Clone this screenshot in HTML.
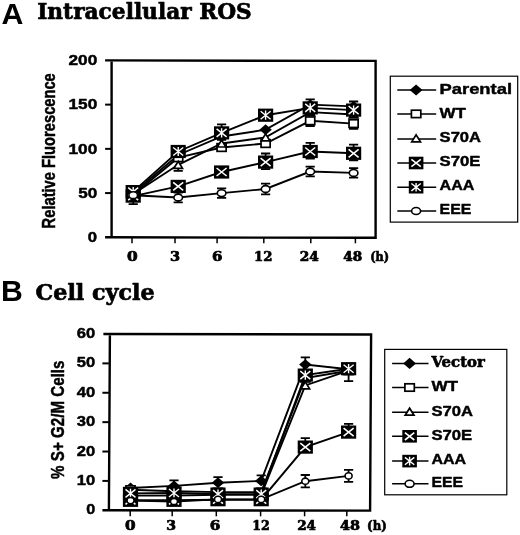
<!DOCTYPE html>
<html lang="en"><head><meta charset="utf-8"><title>Intracellular ROS and Cell cycle</title>
<style>html,body{margin:0;padding:0;background:#fff}svg{display:block}</style></head>
<body>
<svg width="520" height="535" viewBox="0 0 520 535">
<rect width="520" height="535" fill="#fff"/>
<text x="1.5" y="24.1" font-family='"Liberation Sans", Arial, Helvetica, sans-serif' font-size="30.3" font-weight="bold" text-anchor="start">A</text>
<text x="37.2" y="19.3" font-family='"DejaVu Serif", "Liberation Serif", serif' font-size="22.3" font-weight="bold" text-anchor="start" textLength="214.6" lengthAdjust="spacingAndGlyphs" stroke="#000" stroke-width="0.7" stroke-linejoin="round">Intracellular ROS</text>
<path d="M105.1 60.4L375.6 60.9L375.6 237.8L105.1 237.3M111.6 60.4L111.6 237.3" stroke="#000" stroke-width="2.4" fill="none" stroke-linejoin="miter"/>
<path d="M105.1 193.07500000000002H111.6" stroke="#000" stroke-width="2"/>
<path d="M105.1 148.85000000000002H111.6" stroke="#000" stroke-width="2"/>
<path d="M105.1 104.625H111.6" stroke="#000" stroke-width="2"/>
<path d="M132 237.3V243.3" stroke="#000" stroke-width="1.5"/>
<path d="M175 237.3V243.3" stroke="#000" stroke-width="1.5"/>
<path d="M217.1 237.3V243.3" stroke="#000" stroke-width="1.5"/>
<path d="M263.8 237.3V243.3" stroke="#000" stroke-width="1.5"/>
<path d="M310.8 237.3V243.3" stroke="#000" stroke-width="1.5"/>
<path d="M355.4 237.3V243.3" stroke="#000" stroke-width="1.5"/>
<polyline points="133.2,193.1 178.2,155.0 221.6,136.5 265.6,129.7 310.2,104.6 353.6,106.4" fill="none" stroke="#000" stroke-width="1.9"/>
<path d="M126.99999999999999 193.1L133.2 187.7L139.39999999999998 193.1L133.2 198.5Z" fill="#000"/>
<path d="M172.0 155.0L178.2 149.6L184.39999999999998 155.0L178.2 160.4Z" fill="#000"/>
<path d="M215.4 136.5L221.6 131.1L227.79999999999998 136.5L221.6 141.9Z" fill="#000"/>
<path d="M259.40000000000003 129.7L265.6 124.29999999999998L271.8 129.7L265.6 135.1Z" fill="#000"/>
<path d="M304.0 104.6L310.2 99.19999999999999L316.4 104.6L310.2 110.0Z" fill="#000"/>
<path d="M347.40000000000003 106.4L353.6 101.0L359.8 106.4L353.6 111.80000000000001Z" fill="#000"/>
<polyline points="133.2,194.8 178.2,157.7 221.6,147.5 265.6,143.5 310.2,120.8 353.6,123.6" fill="none" stroke="#000" stroke-width="1.9"/>
<path d="M310.2 120.8V126.0M305.59999999999997 126.0H314.8" stroke="#000" stroke-width="1.8" fill="none"/>
<path d="M353.6 123.6V128.8M349.0 128.8H358.20000000000005" stroke="#000" stroke-width="1.8" fill="none"/>
<rect x="128.64999999999998" y="190.95000000000002" width="9.1" height="7.7" fill="#fff" stroke="#000" stroke-width="1.7"/>
<rect x="173.64999999999998" y="153.85" width="9.1" height="7.7" fill="#fff" stroke="#000" stroke-width="1.7"/>
<rect x="217.04999999999998" y="143.65" width="9.1" height="7.7" fill="#fff" stroke="#000" stroke-width="1.7"/>
<rect x="261.05" y="139.65" width="9.1" height="7.7" fill="#fff" stroke="#000" stroke-width="1.7"/>
<rect x="305.65" y="116.95" width="9.1" height="7.7" fill="#fff" stroke="#000" stroke-width="1.7"/>
<rect x="349.05" y="119.75" width="9.1" height="7.7" fill="#fff" stroke="#000" stroke-width="1.7"/>
<polyline points="133.2,194.0 178.2,164.8 221.6,143.5 265.6,137.4 310.2,112.1 353.6,114.5" fill="none" stroke="#000" stroke-width="1.9"/>
<path d="M178.2 164.8V170.8M173.6 170.8H182.79999999999998" stroke="#000" stroke-width="1.8" fill="none"/>
<path d="M128.89999999999998 197.5L133.2 190.5L137.5 197.5Z" fill="#fff" stroke="#000" stroke-width="1.7" stroke-linejoin="miter"/>
<path d="M173.89999999999998 168.3L178.2 161.3L182.5 168.3Z" fill="#fff" stroke="#000" stroke-width="1.7" stroke-linejoin="miter"/>
<path d="M217.29999999999998 147.0L221.6 140.0L225.9 147.0Z" fill="#fff" stroke="#000" stroke-width="1.7" stroke-linejoin="miter"/>
<path d="M261.3 140.9L265.6 133.9L269.90000000000003 140.9Z" fill="#fff" stroke="#000" stroke-width="1.7" stroke-linejoin="miter"/>
<path d="M305.9 115.6L310.2 108.6L314.5 115.6Z" fill="#fff" stroke="#000" stroke-width="1.7" stroke-linejoin="miter"/>
<path d="M349.3 118.0L353.6 111.0L357.90000000000003 118.0Z" fill="#fff" stroke="#000" stroke-width="1.7" stroke-linejoin="miter"/>
<polyline points="133.2,196.1 178.2,186.4 221.6,172.0 265.6,162.1 310.2,151.5 353.6,153.3" fill="none" stroke="#000" stroke-width="1.9"/>
<path d="M133.2 196.1V204.1M128.6 204.1H137.79999999999998" stroke="#000" stroke-width="1.8" fill="none"/>
<path d="M265.6 153.5V169.1M261.0 153.5H270.20000000000005M261.0 169.1H270.20000000000005" stroke="#000" stroke-width="1.8" fill="none"/>
<path d="M310.2 142.9V158.5M305.59999999999997 142.9H314.8M305.59999999999997 158.5H314.8" stroke="#000" stroke-width="1.8" fill="none"/>
<path d="M353.6 144.7V160.3M349.0 144.7H358.20000000000005M349.0 160.3H358.20000000000005" stroke="#000" stroke-width="1.8" fill="none"/>
<rect x="125.6" y="189.5" width="15.2" height="13.2" fill="#000"/>
<path d="M128.2 192.1L138.2 200.1M138.2 192.1L128.2 200.1" stroke="#fff" stroke-width="1.6" fill="none"/>
<rect x="170.6" y="179.8" width="15.2" height="13.2" fill="#000"/>
<path d="M173.2 182.4L183.2 190.4M183.2 182.4L173.2 190.4" stroke="#fff" stroke-width="1.6" fill="none"/>
<rect x="214.0" y="165.4" width="15.2" height="13.2" fill="#000"/>
<path d="M216.6 168.0L226.6 176.0M226.6 168.0L216.6 176.0" stroke="#fff" stroke-width="1.6" fill="none"/>
<rect x="258.0" y="155.5" width="15.2" height="13.2" fill="#000"/>
<path d="M260.6 158.1L270.6 166.1M270.6 158.1L260.6 166.1" stroke="#fff" stroke-width="1.6" fill="none"/>
<rect x="302.59999999999997" y="144.9" width="15.2" height="13.2" fill="#000"/>
<path d="M305.2 147.5L315.2 155.5M315.2 147.5L305.2 155.5" stroke="#fff" stroke-width="1.6" fill="none"/>
<rect x="346.0" y="146.70000000000002" width="15.2" height="13.2" fill="#000"/>
<path d="M348.6 149.3L358.6 157.3M358.6 149.3L348.6 157.3" stroke="#fff" stroke-width="1.6" fill="none"/>
<polyline points="133.2,191.6 178.2,151.5 221.6,132.9 265.6,115.2 310.2,107.9 353.6,110.1" fill="none" stroke="#000" stroke-width="1.9"/>
<path d="M221.6 124.3V139.9M217.0 124.3H226.2M217.0 139.9H226.2" stroke="#000" stroke-width="1.8" fill="none"/>
<path d="M310.2 99.3V114.9M305.59999999999997 99.3H314.8M305.59999999999997 114.9H314.8" stroke="#000" stroke-width="1.8" fill="none"/>
<path d="M353.6 101.5V117.1M349.0 101.5H358.20000000000005M349.0 117.1H358.20000000000005" stroke="#000" stroke-width="1.8" fill="none"/>
<rect x="125.6" y="185.0" width="15.2" height="13.2" fill="#000"/>
<path d="M128.2 187.6L138.2 195.6M138.2 187.6L128.2 195.6M133.2 187.0V196.2" stroke="#fff" stroke-width="1.4" fill="none"/>
<rect x="170.6" y="144.9" width="15.2" height="13.2" fill="#000"/>
<path d="M173.2 147.5L183.2 155.5M183.2 147.5L173.2 155.5M178.2 146.9V156.1" stroke="#fff" stroke-width="1.4" fill="none"/>
<rect x="214.0" y="126.30000000000001" width="15.2" height="13.2" fill="#000"/>
<path d="M216.6 128.9L226.6 136.9M226.6 128.9L216.6 136.9M221.6 128.3V137.5" stroke="#fff" stroke-width="1.4" fill="none"/>
<rect x="258.0" y="108.60000000000001" width="15.2" height="13.2" fill="#000"/>
<path d="M260.6 111.2L270.6 119.2M270.6 111.2L260.6 119.2M265.6 110.60000000000001V119.8" stroke="#fff" stroke-width="1.4" fill="none"/>
<rect x="302.59999999999997" y="101.30000000000001" width="15.2" height="13.2" fill="#000"/>
<path d="M305.2 103.9L315.2 111.9M315.2 103.9L305.2 111.9M310.2 103.30000000000001V112.5" stroke="#fff" stroke-width="1.4" fill="none"/>
<rect x="346.0" y="103.5" width="15.2" height="13.2" fill="#000"/>
<path d="M348.6 106.1L358.6 114.1M358.6 106.1L348.6 114.1M353.6 105.5V114.69999999999999" stroke="#fff" stroke-width="1.4" fill="none"/>
<polyline points="133.2,195.2 178.2,197.5 221.6,193.1 265.6,189.0 310.2,171.5 353.6,172.9" fill="none" stroke="#000" stroke-width="1.9"/>
<path d="M178.2 192.7V202.3M173.6 192.7H182.79999999999998M173.6 202.3H182.79999999999998" stroke="#000" stroke-width="1.8" fill="none"/>
<path d="M221.6 188.3V197.9M217.0 188.3H226.2M217.0 197.9H226.2" stroke="#000" stroke-width="1.8" fill="none"/>
<path d="M265.6 183.6V194.4M261.0 183.6H270.20000000000005M261.0 194.4H270.20000000000005" stroke="#000" stroke-width="1.8" fill="none"/>
<path d="M310.2 166.7V176.3M305.59999999999997 166.7H314.8M305.59999999999997 176.3H314.8" stroke="#000" stroke-width="1.8" fill="none"/>
<path d="M353.6 168.1V177.7M349.0 168.1H358.20000000000005M349.0 177.7H358.20000000000005" stroke="#000" stroke-width="1.8" fill="none"/>
<ellipse cx="133.2" cy="195.2" rx="4.3" ry="3.4" fill="#fff" stroke="#000" stroke-width="1.6"/>
<ellipse cx="178.2" cy="197.5" rx="4.3" ry="3.4" fill="#fff" stroke="#000" stroke-width="1.6"/>
<ellipse cx="221.6" cy="193.1" rx="4.3" ry="3.4" fill="#fff" stroke="#000" stroke-width="1.6"/>
<ellipse cx="265.6" cy="189.0" rx="4.3" ry="3.4" fill="#fff" stroke="#000" stroke-width="1.6"/>
<ellipse cx="310.2" cy="171.5" rx="4.3" ry="3.4" fill="#fff" stroke="#000" stroke-width="1.6"/>
<ellipse cx="353.6" cy="172.9" rx="4.3" ry="3.4" fill="#fff" stroke="#000" stroke-width="1.6"/>
<text x="68.5" y="65.1" font-family='"Liberation Sans", Arial, Helvetica, sans-serif' font-size="14" font-weight="bold" text-anchor="start" textLength="28.7" lengthAdjust="spacingAndGlyphs" stroke="#000" stroke-width="0.45" stroke-linejoin="round">200</text>
<text x="68.5" y="109.3" font-family='"Liberation Sans", Arial, Helvetica, sans-serif' font-size="14" font-weight="bold" text-anchor="start" textLength="28.7" lengthAdjust="spacingAndGlyphs" stroke="#000" stroke-width="0.45" stroke-linejoin="round">150</text>
<text x="68.5" y="153.6" font-family='"Liberation Sans", Arial, Helvetica, sans-serif' font-size="14" font-weight="bold" text-anchor="start" textLength="28.7" lengthAdjust="spacingAndGlyphs" stroke="#000" stroke-width="0.45" stroke-linejoin="round">100</text>
<text x="78.2" y="197.8" font-family='"Liberation Sans", Arial, Helvetica, sans-serif' font-size="14" font-weight="bold" text-anchor="start" textLength="19.0" lengthAdjust="spacingAndGlyphs" stroke="#000" stroke-width="0.45" stroke-linejoin="round">50</text>
<text x="87.8" y="242.0" font-family='"Liberation Sans", Arial, Helvetica, sans-serif' font-size="14" font-weight="bold" text-anchor="start" textLength="9.3" lengthAdjust="spacingAndGlyphs" stroke="#000" stroke-width="0.45" stroke-linejoin="round">0</text>
<text x="127.10000000000001" y="260.6" font-family='"DejaVu Serif", "Liberation Serif", serif' font-size="12.5" font-weight="bold" text-anchor="start" textLength="10.7" lengthAdjust="spacingAndGlyphs" stroke="#000" stroke-width="0.7" stroke-linejoin="round">0</text>
<text x="169.9" y="260.6" font-family='"DejaVu Serif", "Liberation Serif", serif' font-size="12.5" font-weight="bold" text-anchor="start" textLength="10.1" lengthAdjust="spacingAndGlyphs" stroke="#000" stroke-width="0.7" stroke-linejoin="round">3</text>
<text x="211.9" y="260.6" font-family='"DejaVu Serif", "Liberation Serif", serif' font-size="12.5" font-weight="bold" text-anchor="start" textLength="10.4" lengthAdjust="spacingAndGlyphs" stroke="#000" stroke-width="0.7" stroke-linejoin="round">6</text>
<text x="254.0" y="260.6" font-family='"DejaVu Serif", "Liberation Serif", serif' font-size="12.5" font-weight="bold" text-anchor="start" textLength="18.4" lengthAdjust="spacingAndGlyphs" stroke="#000" stroke-width="0.7" stroke-linejoin="round">12</text>
<text x="299.7" y="260.6" font-family='"DejaVu Serif", "Liberation Serif", serif' font-size="12.5" font-weight="bold" text-anchor="start" textLength="19.1" lengthAdjust="spacingAndGlyphs" stroke="#000" stroke-width="0.7" stroke-linejoin="round">24</text>
<text x="343.2" y="260.6" font-family='"DejaVu Serif", "Liberation Serif", serif' font-size="12.5" font-weight="bold" text-anchor="start" textLength="18.9" lengthAdjust="spacingAndGlyphs" stroke="#000" stroke-width="0.7" stroke-linejoin="round">48</text>
<text x="370.2" y="260.6" font-family='"DejaVu Serif", "Liberation Serif", serif' font-size="13" font-weight="bold" text-anchor="start" textLength="18.9" lengthAdjust="spacingAndGlyphs" stroke="#000" stroke-width="0.7" stroke-linejoin="round">(h)</text>
<g transform="translate(55.3 228.4) rotate(-90) scale(1 1.2)">
<text x="0" y="0" font-family='"Liberation Sans", Arial, Helvetica, sans-serif' font-size="15" font-weight="bold" text-anchor="start" textLength="155.2" lengthAdjust="spacingAndGlyphs" stroke="#000" stroke-width="0.4" stroke-linejoin="round">Relative Fluorescence</text>
</g>
<rect x="390.3" y="76.2" width="127.40000000000003" height="145.89999999999998" fill="#fff" stroke="#000" stroke-width="1.2"/>
<path d="M397.3 90.0H436.2" stroke="#000" stroke-width="1.5"/>
<path d="M409.70000000000005 90.0L416.1 84.4L422.5 90.0L416.1 95.6Z" fill="#000"/>
<text x="439.6" y="93.7" font-family='"Liberation Sans", Arial, Helvetica, sans-serif' font-size="15.2" font-weight="bold" text-anchor="start" textLength="72.4" lengthAdjust="spacingAndGlyphs" stroke="#000" stroke-width="0.45" stroke-linejoin="round">Parental</text>
<path d="M397.3 113.9H436.2" stroke="#000" stroke-width="1.5"/>
<rect x="411.40000000000003" y="110.2" width="9.4" height="7.4" fill="#fff" stroke="#000" stroke-width="1.7"/>
<text x="439.6" y="117.9" font-family='"Liberation Sans", Arial, Helvetica, sans-serif' font-size="15.2" font-weight="bold" text-anchor="start" textLength="26.4" lengthAdjust="spacingAndGlyphs" stroke="#000" stroke-width="0.45" stroke-linejoin="round">WT</text>
<path d="M397.3 139H436.2" stroke="#000" stroke-width="1.5"/>
<path d="M411.70000000000005 141.9L416.1 134.9L420.5 141.9Z" fill="#fff" stroke="#000" stroke-width="1.7" stroke-linejoin="miter"/>
<text x="439.6" y="142.1" font-family='"Liberation Sans", Arial, Helvetica, sans-serif' font-size="15.2" font-weight="bold" text-anchor="start" textLength="41.4" lengthAdjust="spacingAndGlyphs" stroke="#000" stroke-width="0.45" stroke-linejoin="round">S70A</text>
<path d="M397.3 163H436.2" stroke="#000" stroke-width="1.5"/>
<rect x="408.8" y="156.7" width="14.6" height="12.6" fill="#000"/>
<path d="M411.40000000000003 159.3L420.8 166.7M420.8 159.3L411.40000000000003 166.7" stroke="#fff" stroke-width="1.6" fill="none"/>
<text x="439.6" y="165.6" font-family='"Liberation Sans", Arial, Helvetica, sans-serif' font-size="15.2" font-weight="bold" text-anchor="start" textLength="40.9" lengthAdjust="spacingAndGlyphs" stroke="#000" stroke-width="0.45" stroke-linejoin="round">S70E</text>
<path d="M397.3 187.2H436.2" stroke="#000" stroke-width="1.5"/>
<rect x="408.8" y="180.89999999999998" width="14.6" height="12.6" fill="#000"/>
<path d="M411.40000000000003 183.5L420.8 190.89999999999998M420.8 183.5L411.40000000000003 190.89999999999998M416.1 182.9V191.49999999999997" stroke="#fff" stroke-width="1.4" fill="none"/>
<text x="439.6" y="190.1" font-family='"Liberation Sans", Arial, Helvetica, sans-serif' font-size="15.2" font-weight="bold" text-anchor="start" textLength="34.9" lengthAdjust="spacingAndGlyphs" stroke="#000" stroke-width="0.45" stroke-linejoin="round">AAA</text>
<path d="M397.3 211.0H436.2" stroke="#000" stroke-width="1.5"/>
<ellipse cx="416.1" cy="211.0" rx="4.5" ry="3.5" fill="#fff" stroke="#000" stroke-width="1.6"/>
<text x="439.6" y="214.4" font-family='"Liberation Sans", Arial, Helvetica, sans-serif' font-size="15.2" font-weight="bold" text-anchor="start" textLength="31.7" lengthAdjust="spacingAndGlyphs" stroke="#000" stroke-width="0.45" stroke-linejoin="round">EEE</text>
<text x="1.1" y="300.9" font-family='"Liberation Sans", Arial, Helvetica, sans-serif' font-size="30.2" font-weight="bold" text-anchor="start">B</text>
<text x="35.6" y="299.9" font-family='"DejaVu Serif", "Liberation Serif", serif' font-size="22.3" font-weight="bold" text-anchor="start" textLength="119" lengthAdjust="spacingAndGlyphs" stroke="#000" stroke-width="0.7" stroke-linejoin="round">Cell cycle</text>
<path d="M103.4 334L371.1 334.5L370.1 510.6L102.4 510.3M109.9 334L108.9 510.3" stroke="#000" stroke-width="2.4" fill="none" stroke-linejoin="miter"/>
<path d="M102.4 480.9166666666667H108.9" stroke="#000" stroke-width="2"/>
<path d="M102.4 451.53333333333336H108.9" stroke="#000" stroke-width="2"/>
<path d="M102.4 422.15H108.9" stroke="#000" stroke-width="2"/>
<path d="M102.4 392.76666666666665H108.9" stroke="#000" stroke-width="2"/>
<path d="M102.4 363.3833333333333H108.9" stroke="#000" stroke-width="2"/>
<path d="M130.2 510.3V516.3" stroke="#000" stroke-width="1.5"/>
<path d="M172.2 510.3V516.3" stroke="#000" stroke-width="1.5"/>
<path d="M216.3 510.3V516.3" stroke="#000" stroke-width="1.5"/>
<path d="M260.6 510.3V516.3" stroke="#000" stroke-width="1.5"/>
<path d="M304.6 510.3V516.3" stroke="#000" stroke-width="1.5"/>
<path d="M346.8 510.3V516.3" stroke="#000" stroke-width="1.5"/>
<polyline points="130.5,488.0 174.0,485.9 218.0,482.7 261.2,480.9 305.3,364.6 348.6,369.3" fill="none" stroke="#000" stroke-width="1.9"/>
<path d="M174 480.3V485.9M169.4 480.3H178.6" stroke="#000" stroke-width="1.8" fill="none"/>
<path d="M218 477.1V482.7M213.4 477.1H222.6" stroke="#000" stroke-width="1.8" fill="none"/>
<path d="M261.2 475.3V480.9M256.59999999999997 475.3H265.8" stroke="#000" stroke-width="1.8" fill="none"/>
<path d="M305.3 357.4V364.6M300.7 357.4H309.90000000000003" stroke="#000" stroke-width="1.8" fill="none"/>
<path d="M124.3 488.0L130.5 482.6L136.7 488.0L130.5 493.4Z" fill="#000"/>
<path d="M167.8 485.9L174 480.5L180.2 485.9L174 491.29999999999995Z" fill="#000"/>
<path d="M211.8 482.7L218 477.3L224.2 482.7L218 488.09999999999997Z" fill="#000"/>
<path d="M255.0 480.9L261.2 475.5L267.4 480.9L261.2 486.29999999999995Z" fill="#000"/>
<path d="M299.1 364.6L305.3 359.20000000000005L311.5 364.6L305.3 370.0Z" fill="#000"/>
<path d="M342.40000000000003 369.3L348.6 363.90000000000003L354.8 369.3L348.6 374.7Z" fill="#000"/>
<polyline points="130.5,489.7 174.0,491.2 218.0,492.1 261.2,492.1 305.3,378.1 348.6,370.7" fill="none" stroke="#000" stroke-width="1.9"/>
<rect x="125.95" y="485.84999999999997" width="9.1" height="7.7" fill="#fff" stroke="#000" stroke-width="1.7"/>
<rect x="169.45" y="487.34999999999997" width="9.1" height="7.7" fill="#fff" stroke="#000" stroke-width="1.7"/>
<rect x="213.45" y="488.25" width="9.1" height="7.7" fill="#fff" stroke="#000" stroke-width="1.7"/>
<rect x="256.65" y="488.25" width="9.1" height="7.7" fill="#fff" stroke="#000" stroke-width="1.7"/>
<rect x="300.75" y="374.25" width="9.1" height="7.7" fill="#fff" stroke="#000" stroke-width="1.7"/>
<rect x="344.05" y="366.84999999999997" width="9.1" height="7.7" fill="#fff" stroke="#000" stroke-width="1.7"/>
<polyline points="130.5,495.6 174.0,495.6 218.0,494.7 261.2,494.7 305.3,385.4 348.6,370.7" fill="none" stroke="#000" stroke-width="1.9"/>
<path d="M126.2 499.1L130.5 492.1L134.8 499.1Z" fill="#fff" stroke="#000" stroke-width="1.7" stroke-linejoin="miter"/>
<path d="M169.7 499.1L174 492.1L178.3 499.1Z" fill="#fff" stroke="#000" stroke-width="1.7" stroke-linejoin="miter"/>
<path d="M213.7 498.2L218 491.2L222.3 498.2Z" fill="#fff" stroke="#000" stroke-width="1.7" stroke-linejoin="miter"/>
<path d="M256.9 498.2L261.2 491.2L265.5 498.2Z" fill="#fff" stroke="#000" stroke-width="1.7" stroke-linejoin="miter"/>
<path d="M301.0 388.9L305.3 381.9L309.6 388.9Z" fill="#fff" stroke="#000" stroke-width="1.7" stroke-linejoin="miter"/>
<path d="M344.3 374.2L348.6 367.2L352.90000000000003 374.2Z" fill="#fff" stroke="#000" stroke-width="1.7" stroke-linejoin="miter"/>
<polyline points="130.5,500.3 174.0,500.3 218.0,499.7 261.2,499.7 305.3,447.1 348.6,432.1" fill="none" stroke="#000" stroke-width="1.9"/>
<path d="M305.3 438.1V447.1M300.7 438.1H309.90000000000003" stroke="#000" stroke-width="1.8" fill="none"/>
<path d="M348.6 423.9V432.1M344.0 423.9H353.20000000000005" stroke="#000" stroke-width="1.8" fill="none"/>
<rect x="122.9" y="493.7" width="15.2" height="13.2" fill="#000"/>
<path d="M125.5 496.3L135.5 504.3M135.5 496.3L125.5 504.3" stroke="#fff" stroke-width="1.6" fill="none"/>
<rect x="166.4" y="493.7" width="15.2" height="13.2" fill="#000"/>
<path d="M169.0 496.3L179.0 504.3M179.0 496.3L169.0 504.3" stroke="#fff" stroke-width="1.6" fill="none"/>
<rect x="210.4" y="493.09999999999997" width="15.2" height="13.2" fill="#000"/>
<path d="M213.0 495.7L223.0 503.7M223.0 495.7L213.0 503.7" stroke="#fff" stroke-width="1.6" fill="none"/>
<rect x="253.6" y="493.09999999999997" width="15.2" height="13.2" fill="#000"/>
<path d="M256.2 495.7L266.2 503.7M266.2 495.7L256.2 503.7" stroke="#fff" stroke-width="1.6" fill="none"/>
<rect x="297.7" y="440.5" width="15.2" height="13.2" fill="#000"/>
<path d="M300.3 443.1L310.3 451.1M310.3 443.1L300.3 451.1" stroke="#fff" stroke-width="1.6" fill="none"/>
<rect x="341.0" y="425.5" width="15.2" height="13.2" fill="#000"/>
<path d="M343.6 428.1L353.6 436.1M353.6 428.1L343.6 436.1" stroke="#fff" stroke-width="1.6" fill="none"/>
<polyline points="130.5,493.4 174.0,493.0 218.0,494.1 261.2,494.1 305.3,375.1 348.6,368.7" fill="none" stroke="#000" stroke-width="1.9"/>
<path d="M348.6 368.7V381.1M344.0 381.1H353.20000000000005" stroke="#000" stroke-width="1.8" fill="none"/>
<rect x="122.9" y="486.79999999999995" width="15.2" height="13.2" fill="#000"/>
<path d="M125.5 489.4L135.5 497.4M135.5 489.4L125.5 497.4M130.5 488.79999999999995V498.0" stroke="#fff" stroke-width="1.4" fill="none"/>
<rect x="166.4" y="486.4" width="15.2" height="13.2" fill="#000"/>
<path d="M169.0 489.0L179.0 497.0M179.0 489.0L169.0 497.0M174 488.4V497.6" stroke="#fff" stroke-width="1.4" fill="none"/>
<rect x="210.4" y="487.5" width="15.2" height="13.2" fill="#000"/>
<path d="M213.0 490.1L223.0 498.1M223.0 490.1L213.0 498.1M218 489.5V498.70000000000005" stroke="#fff" stroke-width="1.4" fill="none"/>
<rect x="253.6" y="487.5" width="15.2" height="13.2" fill="#000"/>
<path d="M256.2 490.1L266.2 498.1M266.2 490.1L256.2 498.1M261.2 489.5V498.70000000000005" stroke="#fff" stroke-width="1.4" fill="none"/>
<rect x="297.7" y="368.5" width="15.2" height="13.2" fill="#000"/>
<path d="M300.3 371.1L310.3 379.1M310.3 371.1L300.3 379.1M305.3 370.5V379.70000000000005" stroke="#fff" stroke-width="1.4" fill="none"/>
<rect x="341.0" y="362.09999999999997" width="15.2" height="13.2" fill="#000"/>
<path d="M343.6 364.7L353.6 372.7M353.6 364.7L343.6 372.7M348.6 364.09999999999997V373.3" stroke="#fff" stroke-width="1.4" fill="none"/>
<polyline points="130.5,500.6 174.0,501.5 218.0,499.4 261.2,499.4 305.3,481.2 348.6,475.9" fill="none" stroke="#000" stroke-width="1.9"/>
<path d="M305.3 475.0V487.4M300.7 475.0H309.90000000000003M300.7 487.4H309.90000000000003" stroke="#000" stroke-width="1.8" fill="none"/>
<path d="M348.6 469.9V481.9M344.0 469.9H353.20000000000005M344.0 481.9H353.20000000000005" stroke="#000" stroke-width="1.8" fill="none"/>
<ellipse cx="130.5" cy="500.6" rx="3.5" ry="3.1" fill="#fff" stroke="#000" stroke-width="1.6"/>
<ellipse cx="174" cy="501.5" rx="3.5" ry="3.1" fill="#fff" stroke="#000" stroke-width="1.6"/>
<ellipse cx="218" cy="499.4" rx="3.5" ry="3.1" fill="#fff" stroke="#000" stroke-width="1.6"/>
<ellipse cx="261.2" cy="499.4" rx="3.5" ry="3.1" fill="#fff" stroke="#000" stroke-width="1.6"/>
<ellipse cx="305.3" cy="481.2" rx="3.5" ry="3.1" fill="#fff" stroke="#000" stroke-width="1.6"/>
<ellipse cx="348.6" cy="475.9" rx="3.5" ry="3.1" fill="#fff" stroke="#000" stroke-width="1.6"/>
<text x="76.8" y="338.0" font-family='"Liberation Sans", Arial, Helvetica, sans-serif' font-size="14.2" font-weight="bold" text-anchor="start" textLength="18.4" lengthAdjust="spacingAndGlyphs" stroke="#000" stroke-width="0.45" stroke-linejoin="round">60</text>
<text x="76.8" y="367.4" font-family='"Liberation Sans", Arial, Helvetica, sans-serif' font-size="14.2" font-weight="bold" text-anchor="start" textLength="18.4" lengthAdjust="spacingAndGlyphs" stroke="#000" stroke-width="0.45" stroke-linejoin="round">50</text>
<text x="76.8" y="396.8" font-family='"Liberation Sans", Arial, Helvetica, sans-serif' font-size="14.2" font-weight="bold" text-anchor="start" textLength="18.4" lengthAdjust="spacingAndGlyphs" stroke="#000" stroke-width="0.45" stroke-linejoin="round">40</text>
<text x="76.8" y="426.1" font-family='"Liberation Sans", Arial, Helvetica, sans-serif' font-size="14.2" font-weight="bold" text-anchor="start" textLength="18.4" lengthAdjust="spacingAndGlyphs" stroke="#000" stroke-width="0.45" stroke-linejoin="round">30</text>
<text x="76.8" y="455.5" font-family='"Liberation Sans", Arial, Helvetica, sans-serif' font-size="14.2" font-weight="bold" text-anchor="start" textLength="18.4" lengthAdjust="spacingAndGlyphs" stroke="#000" stroke-width="0.45" stroke-linejoin="round">20</text>
<text x="76.8" y="484.9" font-family='"Liberation Sans", Arial, Helvetica, sans-serif' font-size="14.2" font-weight="bold" text-anchor="start" textLength="18.4" lengthAdjust="spacingAndGlyphs" stroke="#000" stroke-width="0.45" stroke-linejoin="round">10</text>
<text x="86.2" y="514.3" font-family='"Liberation Sans", Arial, Helvetica, sans-serif' font-size="14.2" font-weight="bold" text-anchor="start" textLength="9.0" lengthAdjust="spacingAndGlyphs" stroke="#000" stroke-width="0.45" stroke-linejoin="round">0</text>
<text x="125.0" y="529.9" font-family='"DejaVu Serif", "Liberation Serif", serif' font-size="12.5" font-weight="bold" text-anchor="start" textLength="10.6" lengthAdjust="spacingAndGlyphs" stroke="#000" stroke-width="0.7" stroke-linejoin="round">0</text>
<text x="166.20000000000002" y="529.9" font-family='"DejaVu Serif", "Liberation Serif", serif' font-size="12.5" font-weight="bold" text-anchor="start" textLength="9.8" lengthAdjust="spacingAndGlyphs" stroke="#000" stroke-width="0.7" stroke-linejoin="round">3</text>
<text x="209.8" y="529.9" font-family='"DejaVu Serif", "Liberation Serif", serif' font-size="12.5" font-weight="bold" text-anchor="start" textLength="10.6" lengthAdjust="spacingAndGlyphs" stroke="#000" stroke-width="0.7" stroke-linejoin="round">6</text>
<text x="252.3" y="529.9" font-family='"DejaVu Serif", "Liberation Serif", serif' font-size="12.5" font-weight="bold" text-anchor="start" textLength="17.5" lengthAdjust="spacingAndGlyphs" stroke="#000" stroke-width="0.7" stroke-linejoin="round">12</text>
<text x="297.2" y="529.9" font-family='"DejaVu Serif", "Liberation Serif", serif' font-size="12.5" font-weight="bold" text-anchor="start" textLength="18.8" lengthAdjust="spacingAndGlyphs" stroke="#000" stroke-width="0.7" stroke-linejoin="round">24</text>
<text x="340.0" y="529.9" font-family='"DejaVu Serif", "Liberation Serif", serif' font-size="12.5" font-weight="bold" text-anchor="start" textLength="20.0" lengthAdjust="spacingAndGlyphs" stroke="#000" stroke-width="0.7" stroke-linejoin="round">48</text>
<text x="367.09999999999997" y="529.9" font-family='"DejaVu Serif", "Liberation Serif", serif' font-size="13" font-weight="bold" text-anchor="start" textLength="19.7" lengthAdjust="spacingAndGlyphs" stroke="#000" stroke-width="0.7" stroke-linejoin="round">(h)</text>
<g transform="translate(64.4 478.9) rotate(-90) scale(1 1.2)">
<text x="0" y="0" font-family='"Liberation Sans", Arial, Helvetica, sans-serif' font-size="15" font-weight="bold" text-anchor="start" textLength="118.4" lengthAdjust="spacingAndGlyphs" stroke="#000" stroke-width="0.4" stroke-linejoin="round">% S+ G2/M Cells</text>
</g>
<rect x="384.7" y="349.4" width="122.10000000000002" height="145.40000000000003" fill="#fff" stroke="#000" stroke-width="1.2"/>
<path d="M392.1 363.4H428.5" stroke="#000" stroke-width="1.5"/>
<path d="M403.20000000000005 363.4L409.6 357.79999999999995L416.0 363.4L409.6 369.0Z" fill="#000"/>
<text x="431.4" y="367.1" font-family='"DejaVu Serif", "Liberation Serif", serif' font-size="14.8" font-weight="bold" text-anchor="start" textLength="53.4" lengthAdjust="spacingAndGlyphs" stroke="#000" stroke-width="0.6" stroke-linejoin="round">Vector</text>
<path d="M392.1 387.5H428.5" stroke="#000" stroke-width="1.5"/>
<rect x="404.90000000000003" y="383.8" width="9.4" height="7.4" fill="#fff" stroke="#000" stroke-width="1.7"/>
<text x="431.4" y="391.3" font-family='"Liberation Sans", Arial, Helvetica, sans-serif' font-size="15.2" font-weight="bold" text-anchor="start" textLength="26.6" lengthAdjust="spacingAndGlyphs" stroke="#000" stroke-width="0.45" stroke-linejoin="round">WT</text>
<path d="M392.1 412.3H428.5" stroke="#000" stroke-width="1.5"/>
<path d="M405.20000000000005 415.2L409.6 408.2L414.0 415.2Z" fill="#fff" stroke="#000" stroke-width="1.7" stroke-linejoin="miter"/>
<text x="431.4" y="415.5" font-family='"Liberation Sans", Arial, Helvetica, sans-serif' font-size="15.2" font-weight="bold" text-anchor="start" textLength="41.5" lengthAdjust="spacingAndGlyphs" stroke="#000" stroke-width="0.45" stroke-linejoin="round">S70A</text>
<path d="M392.1 436.3H428.5" stroke="#000" stroke-width="1.5"/>
<rect x="402.3" y="430.0" width="14.6" height="12.6" fill="#000"/>
<path d="M404.90000000000003 432.6L414.3 440.0M414.3 432.6L404.90000000000003 440.0" stroke="#fff" stroke-width="1.6" fill="none"/>
<text x="431.4" y="439.7" font-family='"Liberation Sans", Arial, Helvetica, sans-serif' font-size="15.2" font-weight="bold" text-anchor="start" textLength="40.8" lengthAdjust="spacingAndGlyphs" stroke="#000" stroke-width="0.45" stroke-linejoin="round">S70E</text>
<path d="M392.1 461.1H428.5" stroke="#000" stroke-width="1.5"/>
<rect x="402.3" y="454.8" width="14.6" height="12.6" fill="#000"/>
<path d="M404.90000000000003 457.40000000000003L414.3 464.8M414.3 457.40000000000003L404.90000000000003 464.8M409.6 456.8V465.40000000000003" stroke="#fff" stroke-width="1.4" fill="none"/>
<text x="431.4" y="464.0" font-family='"Liberation Sans", Arial, Helvetica, sans-serif' font-size="15.2" font-weight="bold" text-anchor="start" textLength="34.8" lengthAdjust="spacingAndGlyphs" stroke="#000" stroke-width="0.45" stroke-linejoin="round">AAA</text>
<path d="M392.1 483.8H428.5" stroke="#000" stroke-width="1.5"/>
<ellipse cx="409.6" cy="483.8" rx="4.5" ry="3.5" fill="#fff" stroke="#000" stroke-width="1.6"/>
<text x="431.4" y="487.2" font-family='"Liberation Sans", Arial, Helvetica, sans-serif' font-size="15.2" font-weight="bold" text-anchor="start" textLength="31.6" lengthAdjust="spacingAndGlyphs" stroke="#000" stroke-width="0.45" stroke-linejoin="round">EEE</text>
</svg>
</body></html>
